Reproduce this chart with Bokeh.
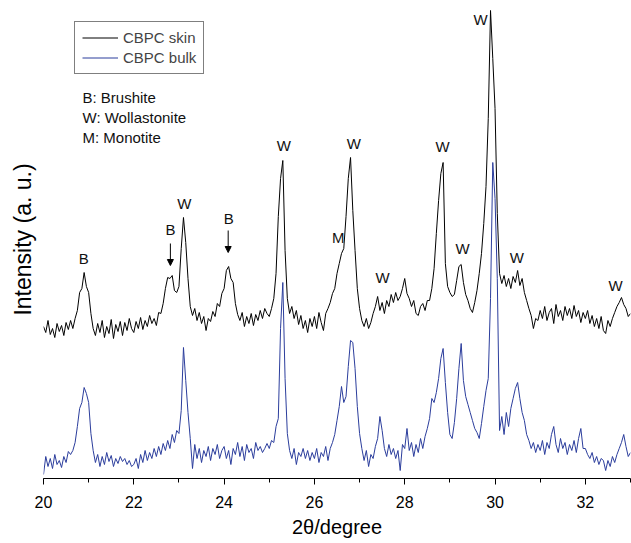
import numpy as np
from bokeh.plotting import figure
from bokeh.models import Range1d, Label, Arrow, NormalHead, Legend, LegendItem, SingleIntervalTicker, Title
from bokeh.embed import file_html
from bokeh.resources import INLINE

# ---- data ----
scan_start = 20.0
scan_step = 0.05
n_points = 261
two_theta = np.round(scan_start + scan_step * np.arange(n_points), 2)

skin_intensity = [
    152, 146, 158, 144, 150, 141, 155, 147, 153, 143, 156, 149, 158, 150, 160, 168, 186, 190, 206, 192,
    186, 165, 150, 143, 155, 146, 158, 141, 152, 145, 159, 140, 154, 147, 157, 143, 156, 148, 160, 150,
    146, 157, 150, 161, 149, 158, 152, 163, 155, 160, 153, 166, 165, 175, 190, 201, 200, 203, 188, 186,
    192, 230, 261, 236, 200, 172, 163, 170, 158, 166, 155, 162, 148, 160, 157, 167, 162, 175, 172, 185,
    190, 208, 212, 200, 196, 175, 164, 158, 166, 152, 162, 155, 165, 153, 164, 158, 168, 160, 170, 165,
    162, 170, 180, 205, 262, 300, 318, 228, 180, 165, 172, 160, 168, 154, 163, 150, 158, 146, 160, 152,
    162, 150, 166, 156, 148, 165, 170, 176, 185, 190, 205, 215, 225, 230, 262, 300, 321, 268, 228, 190,
    170, 158, 152, 160, 150, 156, 165, 172, 182, 168, 176, 165, 178, 172, 184, 176, 186, 178, 182, 190,
    200, 185, 180, 172, 178, 165, 163, 172, 175, 168, 178, 178, 190, 210, 245, 278, 305, 316, 215, 192,
    186, 182, 184, 198, 212, 214, 196, 184, 178, 170, 166, 176, 188, 205, 225, 255, 292, 360, 468, 420,
    370, 265, 205, 195, 203, 192, 200, 190, 202, 196, 208, 193, 200, 186, 178, 170, 163, 150, 160, 158,
    168, 160, 172, 158, 166, 170, 155, 174, 162, 168, 158, 172, 163, 170, 160, 173, 162, 168, 156, 166,
    160, 168, 155, 163, 152, 160, 150, 162, 148, 145, 158, 152, 160, 166, 172, 176, 181, 174, 170, 162,
    165,
]

bulk_intensity = [
    4, 22, 12, 20, 10, 24, 14, 18, 11, 22, 16, 27, 24, 28, 36, 52, 70, 76, 91, 85,
    76, 45, 28, 16, 24, 12, 22, 14, 26, 17, 23, 12, 20, 15, 22, 17, 20, 14, 18, 12,
    14, 20, 10, 24, 16, 28, 18, 26, 20, 30, 22, 32, 24, 35, 28, 38, 30, 44, 36, 48,
    45, 68, 131, 98, 66, 40, 10, 34, 20, 30, 16, 28, 22, 32, 18, 30, 24, 34, 20, 28,
    32, 20, 28, 14, 30, 24, 36, 22, 32, 18, 34, 26, 30, 20, 36, 28, 32, 26, 30, 35,
    30, 38, 36, 52, 60, 150, 196, 100, 45, 28, 20, 30, 14, 26, 22, 30, 20, 28, 18, 26,
    20, 30, 16, 26, 22, 32, 18, 30, 36, 44, 58, 72, 92, 76, 82, 112, 138, 136, 110, 72,
    45, 30, 18, 28, 12, 24, 20, 32, 40, 62, 48, 30, 22, 34, 24, 30, 20, 28, 8, 34,
    30, 50, 28, 36, 22, 34, 26, 40, 30, 42, 50, 60, 80, 76, 86, 100, 120, 130, 96, 66,
    44, 40, 56, 80, 110, 135, 98, 82, 74, 66, 58, 50, 46, 40, 55, 72, 88, 100, 180, 316,
    280, 200, 48, 62, 44, 66, 52, 70, 80, 90, 96, 80, 66, 58, 44, 38, 30, 36, 26, 34,
    28, 38, 24, 36, 30, 44, 52, 34, 26, 40, 30, 36, 24, 34, 28, 38, 26, 40, 50, 30,
    30, 24, 20, 26, 16, 22, 14, 20, 18, 8, 18, 12, 22, 16, 24, 30, 36, 44, 32, 22,
    26,
]

series_names = ["CBPC skin", "CBPC bulk"]
phase_key = ["B: Brushite", "W: Wollastonite", "M: Monotite"]

peak_text = ["B", "B", "W", "B", "W", "M", "W", "W", "W", "W", "W", "W", "W"]
peak_x = [20.89, 22.81, 23.12, 24.10, 25.32, 26.53, 26.87, 27.51, 28.84, 29.28, 29.68, 30.48, 32.67]
peak_y = [220, 249, 275, 260, 333, 241, 335, 201, 332, 230, 459, 221, 193]

arrow_x = [22.81, 24.09]
arrow_top = [235, 248]
arrow_tip = [213, 226]

x_title = "2θ/degree"
y_title = "Intensity (a. u.)"

FONT = "Liberation Sans"

p = figure(width=631, height=543, x_range=Range1d(20, 33), y_range=Range1d(0, 478),
           output_backend="svg", toolbar_location=None, y_axis_location=None,
           min_border_left=43, min_border_right=1, min_border_top=0, min_border_bottom=65)
p.outline_line_color = None
p.grid.grid_line_color = None
p.background_fill_color = "white"
p.border_fill_color = "white"

ax = p.xaxis[0]
ax.ticker = SingleIntervalTicker(interval=2, num_minor_ticks=2)
ax.axis_line_color = "black"
ax.axis_line_width = 1
ax.major_tick_line_color = "black"
ax.minor_tick_line_color = "black"
ax.major_tick_in = 0
ax.major_tick_out = 6
ax.minor_tick_in = 0
ax.minor_tick_out = 4
ax.major_label_standoff = 11
ax.major_label_text_font = FONT
ax.major_label_text_font_size = "16px"
ax.major_label_text_color = "black"
ax.axis_label = x_title
ax.axis_label_text_font = FONT
ax.axis_label_text_font_size = "20px"
ax.axis_label_text_font_style = "normal"
ax.axis_label_text_color = "black"
ax.axis_label_standoff = 5

p.add_layout(Title(text=y_title, align="center", text_font=FONT, text_font_size="23px",
                   text_font_style="normal", text_color="black", standoff=15), "left")

r_skin = p.line(two_theta, skin_intensity, line_color="black", line_width=1)
r_bulk = p.line(two_theta, bulk_intensity, line_color="#2b3d9c", line_width=1)

legend = Legend(items=[LegendItem(label=series_names[0], renderers=[r_skin]),
                       LegendItem(label=series_names[1], renderers=[r_bulk])],
                location=(31, 404), orientation="vertical")
legend.border_line_color = "black"
legend.border_line_width = 1
legend.background_fill_color = "white"
legend.background_fill_alpha = 1
legend.label_text_font = FONT
legend.label_text_font_size = "15px"
legend.glyph_width = 36
legend.glyph_height = 15
legend.label_height = 15
legend.spacing = 3
legend.padding = 7
legend.margin = 0
legend.label_standoff = 5
p.add_layout(legend)

for i, t in enumerate(phase_key):
    p.add_layout(Label(x=20.864, y=381 - 20 * i, text=t, text_font=FONT, text_font_size="15px",
                       text_align="left", text_baseline="middle", text_color="#111111"))

for t, x, y in zip(peak_text, peak_x, peak_y):
    p.add_layout(Label(x=x, y=y, text=t, text_font=FONT, text_font_size="15px",
                       text_align="center", text_baseline="middle", text_color="#111111"))

for x, y0, y1 in zip(arrow_x, arrow_top, arrow_tip):
    p.add_layout(Arrow(end=NormalHead(size=6, fill_color="black", line_color="black"),
                       x_start=x, y_start=y0, x_end=x, y_end=y1,
                       line_color="black", line_width=1))

open("out.html", "w").write(file_html(p, INLINE))
